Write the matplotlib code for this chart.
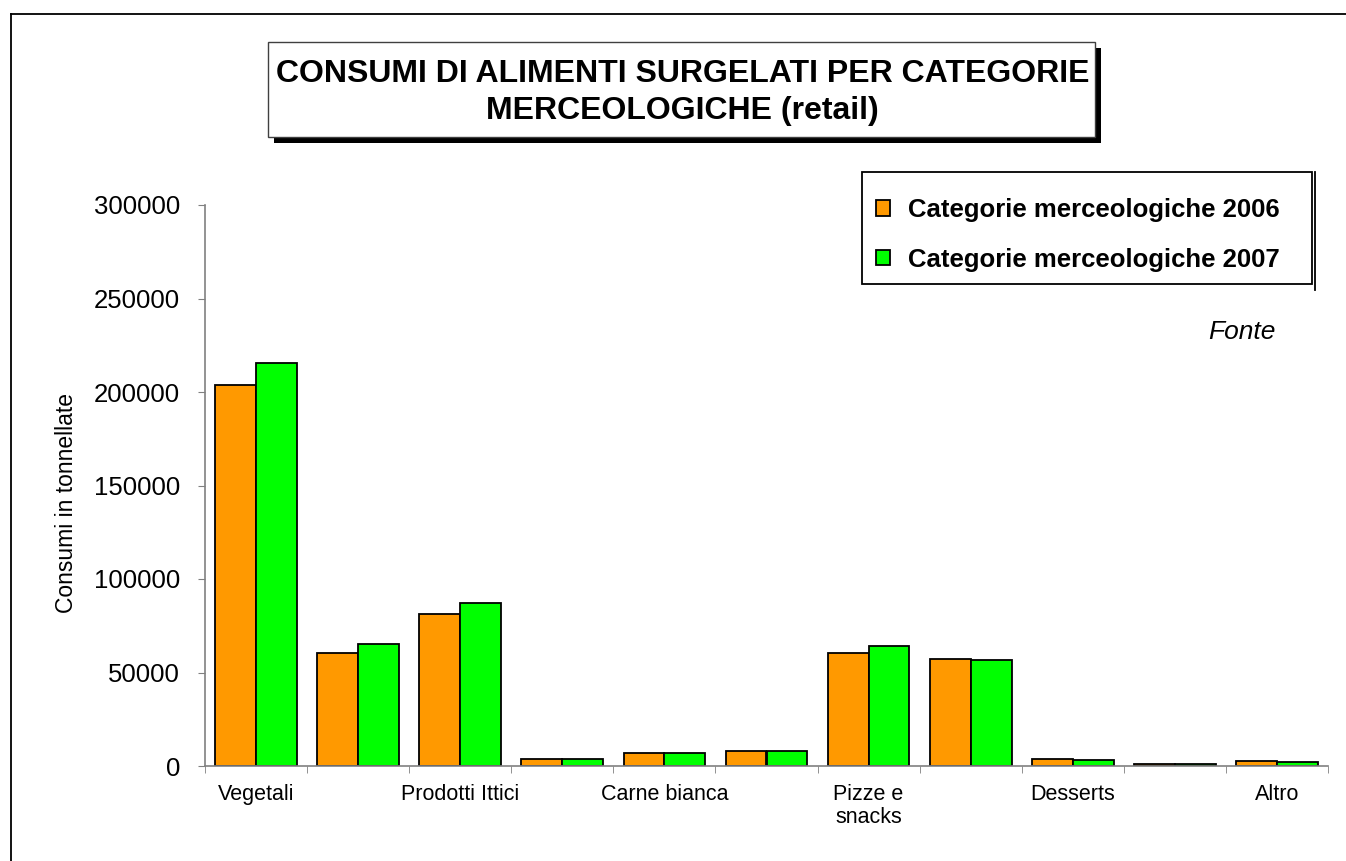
import matplotlib
matplotlib.use("Agg")
import matplotlib.pyplot as plt
import numpy as np
from matplotlib.patches import Rectangle
from matplotlib.lines import Line2D

# data (tonnes)
categories = ["Vegetali", "", "Prodotti Ittici", "", "Carne bianca", "",
              "Pizze e\nsnacks", "", "Desserts", "", "Altro"]
consumi_2006 = [204000, 60300, 81300, 3600, 6800, 7800, 60600, 57000, 3600, 900, 2800]
consumi_2007 = [215600, 65200, 87000, 3500, 6800, 7800, 64200, 56700, 3200, 900, 2300]
series_labels = ["Categorie merceologiche 2006", "Categorie merceologiche 2007"]
y_ticks = [0, 50000, 100000, 150000, 200000, 250000, 300000]

W, H = 1346, 861
plt.rcParams['font.family'] = ['Liberation Sans', 'DejaVu Sans']

def fx(px):
    return px / W

def fy(py):
    return 1 - py / H

fig = plt.figure(figsize=(W / 100, H / 100), dpi=100)
fig.patch.set_facecolor("white")

# outer frame (top + left only visible)
fig.add_artist(Line2D([fx(11), 1], [fy(14), fy(14)], color="black", lw=1.3, transform=fig.transFigure))
fig.add_artist(Line2D([fx(11), fx(11)], [fy(14), 0], color="black", lw=1.3, transform=fig.transFigure))

ax = fig.add_axes([fx(205), fy(766), fx(1328) - fx(205), fy(205) - fy(766)])

x = np.arange(len(categories))
w = 0.4
b1 = ax.bar(x - w / 2, consumi_2006, w, color="#FF9900", edgecolor="black", linewidth=1.3,
            label=series_labels[0])
b2 = ax.bar(x + w / 2, consumi_2007, w, color="#00FF00", edgecolor="black", linewidth=1.3,
            label=series_labels[1])

ax.set_xlim(-0.5, len(categories) - 0.5)
ax.set_ylim(0, 300000)
ax.set_yticks(y_ticks)
ax.set_yticklabels([str(v) for v in y_ticks], fontsize=18.5)
ax.set_xticks(x)
ax.set_xticklabels(categories, fontsize=15.5, linespacing=1.15)
ax.set_xticks(np.arange(-0.5, len(categories)), minor=True)
ax.tick_params(axis="x", which="major", length=0, pad=13)
ax.tick_params(axis="x", which="minor", length=5, color="#808080", direction="out")
ax.tick_params(axis="y", length=5, color="#808080", direction="out", pad=13)

for s in ["top", "right"]:
    ax.spines[s].set_visible(False)
for s in ["left", "bottom"]:
    ax.spines[s].set_color("#808080")
    ax.spines[s].set_linewidth(1.2)

ax.set_ylabel("Consumi in tonnellate", fontsize=16.5)
ax.yaxis.set_label_coords(-0.113, 0.469)

# title box with shadow
fig.add_artist(Rectangle((fx(274), fy(143)), fx(1101) - fx(274), fy(42) - fy(137),
                         transform=fig.transFigure, facecolor="black", edgecolor="none"))
fig.add_artist(Rectangle((fx(268), fy(137)), fx(1095) - fx(268), fy(42) - fy(137),
                         transform=fig.transFigure, facecolor="white", edgecolor="#404040", lw=1))
fig.text(fx(683), fy(74), "CONSUMI DI ALIMENTI SURGELATI PER CATEGORIE", ha="center", va="center",
         fontsize=23, fontweight="bold")
fig.text(fx(682), fy(111), "MERCEOLOGICHE (retail)", ha="center", va="center",
         fontsize=23, fontweight="bold")

# legend: frame drawn separately, entries placed by the legend
fig.add_artist(Rectangle((fx(862), fy(284)), fx(1312) - fx(862), fy(172) - fy(284),
                         transform=fig.transFigure, facecolor="none", edgecolor="black", lw=1.3))
leg = ax.legend(handles=[b1, b2], loc="upper left", bbox_to_anchor=(fx(876), fy(198)),
                bbox_transform=fig.transFigure, fontsize=18.5, frameon=False,
                handlelength=0.55, handleheight=0.55, handletextpad=0.7,
                labelspacing=1.0, borderpad=0, borderaxespad=0)
for t in leg.get_texts():
    t.set_fontweight("bold")
fig.add_artist(Line2D([fx(1315), fx(1315)], [fy(172), fy(290)], color="black", lw=1.3,
                      transform=fig.transFigure))

fig.text(fx(1276), fy(332), "Fonte", ha="right", va="center", fontsize=19, style="italic")

fig.savefig("out.png", dpi=100)
